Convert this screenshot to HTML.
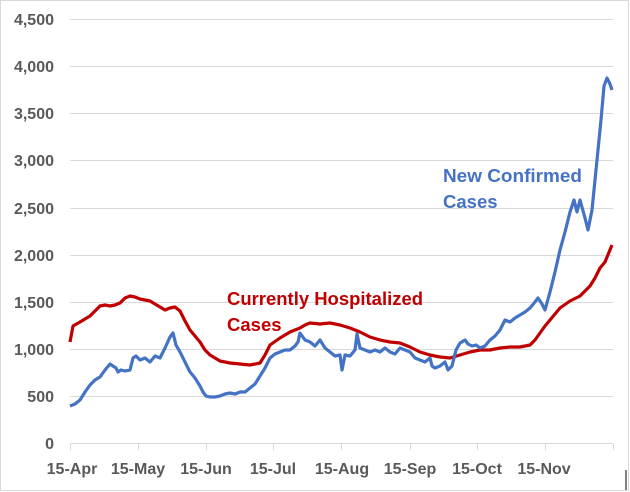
<!DOCTYPE html>
<html><head><style>
body{margin:0;background:#fff;}
svg{display:block;font-family:"Liberation Sans",Arial,sans-serif;}
</style></head><body>
<svg width="630" height="492" viewBox="0 0 630 492">
<rect x="0.5" y="0.5" width="628" height="490" fill="#fff" stroke="#d9d9d9"/>
<g stroke="#d9d9d9" stroke-width="1">
<line x1="70" x2="613" y1="19.5" y2="19.5"/>
<line x1="70" x2="613" y1="66.5" y2="66.5"/>
<line x1="70" x2="613" y1="113.5" y2="113.5"/>
<line x1="70" x2="613" y1="160.5" y2="160.5"/>
<line x1="70" x2="613" y1="208.5" y2="208.5"/>
<line x1="70" x2="613" y1="255.5" y2="255.5"/>
<line x1="70" x2="613" y1="302.5" y2="302.5"/>
<line x1="70" x2="613" y1="349.5" y2="349.5"/>
<line x1="70" x2="613" y1="396.5" y2="396.5"/>
<line x1="70" x2="613" y1="443.5" y2="443.5"/>
<path d="M70.5 444v6M138.5 444v6M206.5 444v6M273.5 444v6M341.5 444v6M410.5 444v6M477.5 444v6M545.5 444v6M613.5 444v6"/>
</g>
<line x1="626" y1="470" x2="626" y2="490" stroke="#000"/>
<g fill="#595959" font-size="16" font-weight="bold" text-anchor="end">
<text x="54" y="25">4,500</text><text x="54" y="72">4,000</text><text x="54" y="119">3,500</text>
<text x="54" y="166">3,000</text><text x="54" y="214">2,500</text><text x="54" y="261">2,000</text>
<text x="54" y="308">1,500</text><text x="54" y="355">1,000</text><text x="54" y="402">500</text>
<text x="54" y="449">0</text>
</g>
<g fill="#595959" font-size="16" font-weight="bold" text-anchor="middle">
<text x="72" y="474">15-Apr</text><text x="138" y="474">15-May</text><text x="206" y="474">15-Jun</text>
<text x="273" y="474">15-Jul</text><text x="342" y="474">15-Aug</text><text x="410" y="474">15-Sep</text>
<text x="477" y="474">15-Oct</text><text x="544" y="474">15-Nov</text>
</g>
<polyline fill="none" stroke="#c00000" stroke-width="3.2" stroke-linejoin="round" points="70,342 73,326 80,322 90,316 100,306 105,305 110,306 115,305 120,303 125,298 130,296 135,297 140,299 150,301 160,307 165,310 170,308 175,307 180,311 185,321 190,330 195,336 200,342 205,350 210,355 215,358 220,361 230,363 240,364 250,365 260,363 265,355 270,345 280,338 290,332 300,328 305,325 310,323 320,324 330,323 340,325 350,328 360,332 370,337 380,340 390,342 400,343 410,347 420,352 430,355 440,357 450,358 460,355 470,352 480,350 490,350 500,348 510,347 520,347 530,345 535,340 540,333 545,326 550,320 560,308 570,301 580,296 590,286 595,278 600,268 605,262 612,245"/>
<polyline fill="none" stroke="#4472c4" stroke-width="3.2" stroke-linejoin="round" points="70,406 75,404 80,400 85,392 90,385 95,380 100,377 105,370 110,364 113,366 116,368 118,372 121,370 125,371 130,370 133,358 136,356 140,360 145,358 150,362 155,356 160,358 165,348 170,337 173,333 176,345 180,352 185,362 190,372 195,378 200,386 203,392 206,396 210,397 215,397 220,396 225,394 230,393 235,394 240,392 245,392 250,388 255,384 260,376 265,368 270,358 275,354 280,352 285,350 290,350 295,346 298,342 300,333 305,340 310,342 315,346 320,340 325,348 330,352 335,356 340,355 342,370 345,355 350,356 355,350 357,334 360,348 365,350 370,352 375,350 380,352 385,348 390,352 395,354 400,348 405,350 410,352 415,358 420,360 425,362 430,358 432,366 435,368 440,366 445,362 448,370 452,366 456,350 460,343 465,340 468,344 472,346 476,345 480,348 485,346 490,340 495,336 500,330 505,320 510,322 515,318 520,315 525,312 530,308 535,302 538,298 542,304 545,310 550,292 555,272 560,250 565,232 570,212 574,200 577,212 580,200 585,218 588,230 592,210 597,160 601,120 604,86 607,78 610,84 612,90"/>
<g font-size="18.5" font-weight="bold">
<text x="443" y="182" fill="#4472c4" textLength="139" lengthAdjust="spacingAndGlyphs">New Confirmed</text>
<text x="443" y="208" fill="#4472c4">Cases</text>
<text x="227" y="305" fill="#c00000" textLength="196" lengthAdjust="spacingAndGlyphs">Currently Hospitalized</text>
<text x="227" y="331" fill="#c00000">Cases</text>
</g>
</svg>
</body></html>
